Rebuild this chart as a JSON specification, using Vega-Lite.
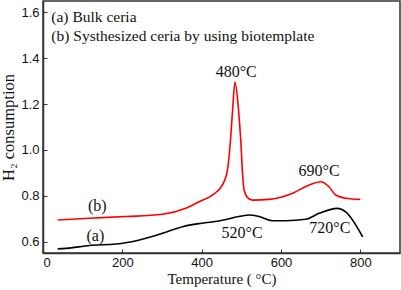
{
  "$schema": "https://vega.github.io/schema/vega-lite/v6.json",
  "width": 357,
  "height": 252,
  "autosize": "none",
  "padding": {"left": 43, "top": 1, "right": 1, "bottom": 37},
  "config": {
    "view": {"stroke": "#333333", "strokeWidth": 1.5},
    "axis": {
      "domainColor": "#333333", "domainWidth": 1.5, "tickColor": "#333333",
      "grid": false, "labelFont": "Liberation Sans", "labelFontSize": 13, "labelColor": "#111111",
      "titleFont": "Liberation Serif", "titleFontSize": 15, "titleFontWeight": "normal", "titleColor": "#111111"
    }
  },
  "datasets": {
    "curves": [
      {"s": "a", "T": 37, "v": 0.568},
      {"s": "a", "T": 58, "v": 0.570},
      {"s": "a", "T": 117, "v": 0.583},
      {"s": "a", "T": 184, "v": 0.589},
      {"s": "a", "T": 243, "v": 0.607},
      {"s": "a", "T": 301, "v": 0.636},
      {"s": "a", "T": 352, "v": 0.665},
      {"s": "a", "T": 400, "v": 0.680},
      {"s": "a", "T": 444, "v": 0.690},
      {"s": "a", "T": 494, "v": 0.709},
      {"s": "a", "T": 520, "v": 0.716},
      {"s": "a", "T": 545, "v": 0.709},
      {"s": "a", "T": 578, "v": 0.691},
      {"s": "a", "T": 612, "v": 0.691},
      {"s": "a", "T": 662, "v": 0.697},
      {"s": "a", "T": 696, "v": 0.723},
      {"s": "a", "T": 742, "v": 0.745},
      {"s": "a", "T": 763, "v": 0.730},
      {"s": "a", "T": 806, "v": 0.620},
      {"s": "b", "T": 37, "v": 0.694},
      {"s": "b", "T": 117, "v": 0.702},
      {"s": "b", "T": 209, "v": 0.709},
      {"s": "b", "T": 301, "v": 0.719},
      {"s": "b", "T": 360, "v": 0.745},
      {"s": "b", "T": 394, "v": 0.774},
      {"s": "b", "T": 427, "v": 0.803},
      {"s": "b", "T": 452, "v": 0.846},
      {"s": "b", "T": 465, "v": 0.912},
      {"s": "b", "T": 472, "v": 1.028},
      {"s": "b", "T": 478, "v": 1.173},
      {"s": "b", "T": 484, "v": 1.296},
      {"s": "b", "T": 493, "v": 1.173},
      {"s": "b", "T": 499, "v": 1.028},
      {"s": "b", "T": 503, "v": 0.897},
      {"s": "b", "T": 507, "v": 0.825},
      {"s": "b", "T": 515, "v": 0.793},
      {"s": "b", "T": 528, "v": 0.781},
      {"s": "b", "T": 570, "v": 0.784},
      {"s": "b", "T": 628, "v": 0.810},
      {"s": "b", "T": 670, "v": 0.846},
      {"s": "b", "T": 700, "v": 0.861},
      {"s": "b", "T": 721, "v": 0.839},
      {"s": "b", "T": 738, "v": 0.803},
      {"s": "b", "T": 763, "v": 0.789},
      {"s": "b", "T": 800, "v": 0.784}
    ],
    "labels": [
      {"t": "480°C", "T": 487, "v": 1.342},
      {"t": "690°C", "T": 696, "v": 0.907},
      {"t": "520°C", "T": 502, "v": 0.638},
      {"t": "720°C", "T": 723, "v": 0.660},
      {"t": "(b)", "T": 137, "v": 0.755},
      {"t": "(a)", "T": 132, "v": 0.625}
    ],
    "legend": [
      {"t": "(a) Bulk ceria", "T": 21, "v": 1.581},
      {"t": "(b) Systhesized ceria by using biotemplate", "T": 21, "v": 1.499}
    ]
  },
  "layer": [
    {
      "data": {"name": "curves"},
      "mark": {"type": "line", "strokeWidth": 1.6, "interpolate": "monotone"},
      "encoding": {
        "x": {"field": "T", "type": "quantitative",
              "scale": {"domain": [0, 900], "nice": false},
              "axis": {"title": "Temperature ( °C)", "values": [0, 100, 200, 300, 400, 500, 600, 700, 800, 900],
                       "labelExpr": "datum.value % 200 === 0 ? datum.label : ''",
                       "tickSize": {"condition": {"test": "datum.value % 200 === 0", "value": -4}, "value": -2.5},
                       "labelPadding": 7, "titlePadding": 2}},
        "y": {"field": "v", "type": "quantitative",
              "scale": {"domain": [0.55, 1.65], "nice": false, "zero": false},
              "axis": {"title": "H₂ consumption", "titleFontSize": 16.5, "values": [0.6, 0.7, 0.8, 0.9, 1.0, 1.1, 1.2, 1.3, 1.4, 1.5, 1.6],
                       "labelExpr": "round(datum.value * 10) % 2 === 0 ? format(datum.value, '.1f') : ''",
                       "tickSize": {"condition": {"test": "round(datum.value * 10) % 2 === 0", "value": -4}, "value": -2.5},
                       "labelPadding": 8, "titlePadding": 4}},
        "color": {"field": "s", "type": "nominal", "scale": {"domain": ["a", "b"], "range": ["#000000", "#ff0000"]}, "legend": null}
      }
    },
    {
      "data": {"name": "labels"},
      "mark": {"type": "text", "font": "Liberation Serif", "fontSize": 16, "color": "#111111", "baseline": "middle"},
      "encoding": {
        "x": {"field": "T", "type": "quantitative"},
        "y": {"field": "v", "type": "quantitative"},
        "text": {"field": "t"}
      }
    },
    {
      "data": {"name": "legend"},
      "mark": {"type": "text", "font": "Liberation Serif", "fontSize": 15.5, "color": "#111111", "align": "left", "baseline": "middle"},
      "encoding": {
        "x": {"field": "T", "type": "quantitative"},
        "y": {"field": "v", "type": "quantitative"},
        "text": {"field": "t"}
      }
    }
  ]
}
